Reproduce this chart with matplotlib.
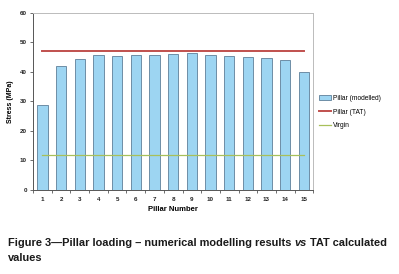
import matplotlib
matplotlib.use("Agg")
import matplotlib.pyplot as plt
import numpy as np

pillars = ["1", "2", "3", "4", "5", "6", "7", "8", "9", "10", "11", "12", "13", "14", "15"]
modelled = [28.7, 41.9, 44.3, 45.6, 45.4, 45.6, 45.6, 45.9, 46.3, 45.8, 45.5, 45.0, 44.7, 44.1, 39.8]
tat_value = 47.2
virgin_value = 11.8

plt.rcParams['font.family'] = ['Liberation Sans', 'DejaVu Sans']

fig = plt.figure(figsize=(3.99, 2.74), dpi=100)
ax = fig.add_axes([0.083, 0.307, 0.702, 0.646])

x = np.arange(1, len(pillars) + 1)
hb = ax.bar(x, modelled, width=0.55, color="#9DD5F2", edgecolor="#5F7F99", linewidth=0.6,
            label="Pillar (modelled)", zorder=2)
ht, = ax.plot([x[0], x[-1]], [tat_value, tat_value], color="#C0504D", lw=1.4, label="Pillar (TAT)", zorder=3)
hv, = ax.plot([x[0], x[-1]], [virgin_value, virgin_value], color="#A8C05A", lw=0.9, label="Virgin", zorder=3)

ax.set_xlim(0.5, len(pillars) + 0.5)
ax.set_ylim(0, 60)
ax.set_yticks(range(0, 61, 10))
ax.set_xticks(x)
ax.set_xticklabels(pillars)
ax.set_xticks(np.arange(0.5, len(pillars) + 1, 1), minor=True)
ax.tick_params(axis='x', which='major', length=0, labelsize=4.5, pad=5)
ax.tick_params(axis='x', which='minor', length=2.5, width=0.6, color="#555555")
ax.tick_params(axis='y', length=2.5, width=0.6, labelsize=4.5, color="#555555", pad=2)
for lab in ax.get_xticklabels() + ax.get_yticklabels():
    lab.set_fontweight('bold')
    lab.set_color("#222222")

for s in ['left', 'bottom']:
    ax.spines[s].set_color("#555555")
    ax.spines[s].set_linewidth(0.7)
for s in ['top', 'right']:
    ax.spines[s].set_color("#BBBBBB")
    ax.spines[s].set_linewidth(0.7)

ax.set_ylabel("Stress (MPa)", fontsize=5, fontweight='bold', labelpad=4)
ax.set_xlabel("Pillar Number", fontsize=5.5, fontweight='bold', labelpad=3)

leg = ax.legend(handles=[hb, ht, hv], loc='center left', bbox_to_anchor=(1.0, 0.44), frameon=False,
                fontsize=4.8, handlelength=1.8, handletextpad=0.2, labelspacing=1.0)

# Caption with italic "vs"
fig.canvas.draw()
renderer = fig.canvas.get_renderer()
cap_y1 = 1 - 243 / 274
cap_y2 = 1 - 258 / 274
xpos = 8 / 399
fs = 7.9
parts = [("Figure 3\u2014Pillar loading \u2013 numerical modelling results ", 'normal'),
         ("vs", 'italic'),
         (" TAT calculated", 'normal')]
for txt, style in parts:
    t = fig.text(xpos, cap_y1, txt, fontsize=fs, fontweight='bold', fontstyle=style,
                 va='center', ha='left', color="#1a1a1a")
    bb = t.get_window_extent(renderer=renderer)
    xpos += bb.width / fig.bbox.width
fig.text(8 / 399, cap_y2, "values", fontsize=fs, fontweight='bold', va='center', ha='left', color="#1a1a1a")

fig.savefig("out.png", dpi=100)
